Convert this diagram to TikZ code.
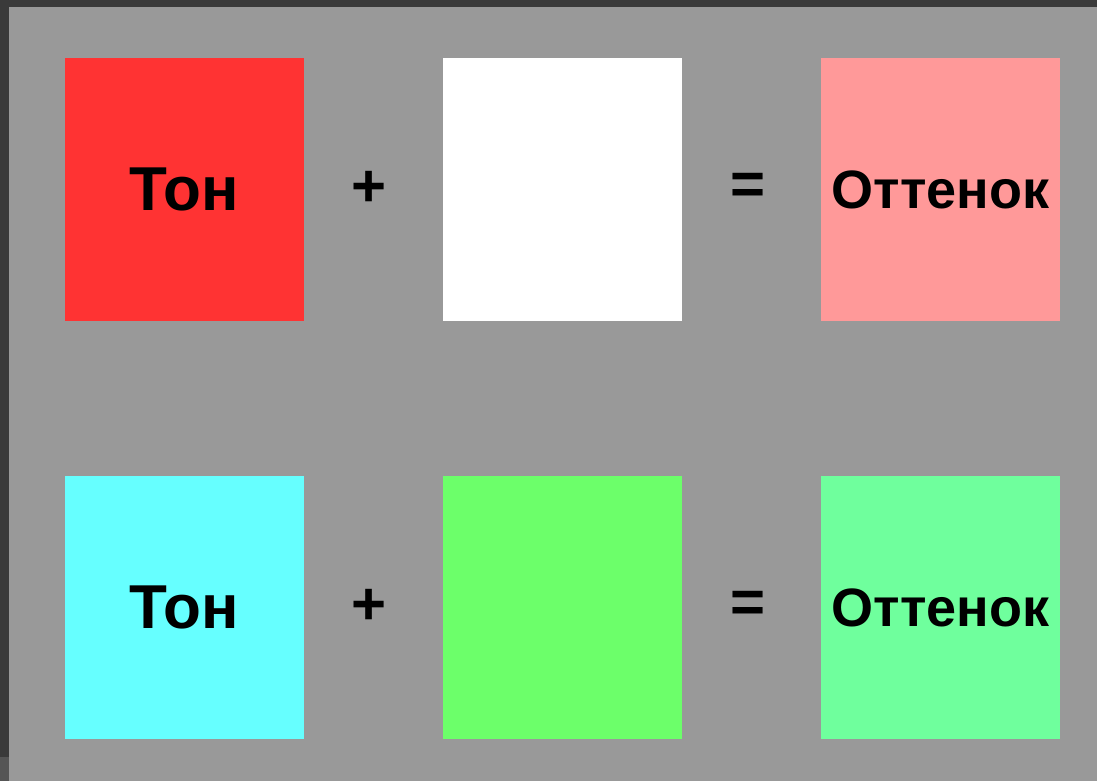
\documentclass[tikz,border=0pt]{standalone}
\usepackage{fontspec}
\setmainfont{Liberation Sans}
\definecolor{bgdark}{HTML}{3A3A3A}
\definecolor{bgmid}{HTML}{555555}
\definecolor{bggray}{HTML}{999999}
\definecolor{tonred}{HTML}{FF3333}
\definecolor{tonpink}{HTML}{FF9999}
\definecolor{toncyan}{HTML}{66FFFF}
\definecolor{tongreen}{HTML}{6CFF6A}
\definecolor{tonmint}{HTML}{6FFF9D}
\begin{document}
\begin{tikzpicture}[x=1pt,y=-1pt,
  swatch/.style={minimum width=239pt,minimum height=263pt,inner sep=0pt,outer sep=0pt,anchor=north west,font=\fontsize{54}{60}\selectfont\bfseries},
  bigtext/.style={font=\fontsize{62}{70}\selectfont\bfseries},
  op/.style={font=\fontsize{60}{66}\selectfont\bfseries,inner sep=0pt}]
\useasboundingbox (0,0) rectangle (1097,781);
\fill[bgdark] (0,0) rectangle (1097,781);
\fill[bgmid] (0,757) rectangle (9,781);
\fill[bggray] (9,7) rectangle (1097,781);
% top row
\node[swatch,bigtext,fill=tonred] (t1) at (65,58) {Тон};
\node[swatch,fill=white] (w1) at (443,58) {};
\node[swatch,fill=tonpink] (s1) at (821,58) {Оттенок};
\node[op] (p1) at (369,189) {+};
\node[op] (e1) at (748,189) {=};
% bottom row
\node[swatch,bigtext,fill=toncyan] (t2) at (65,476) {Тон};
\node[swatch,fill=tongreen] (w2) at (443,476) {};
\node[swatch,fill=tonmint] (s2) at (821,476) {Оттенок};
\node[op] (p2) at (369,607) {+};
\node[op] (e2) at (748,607) {=};
\end{tikzpicture}
\end{document}
